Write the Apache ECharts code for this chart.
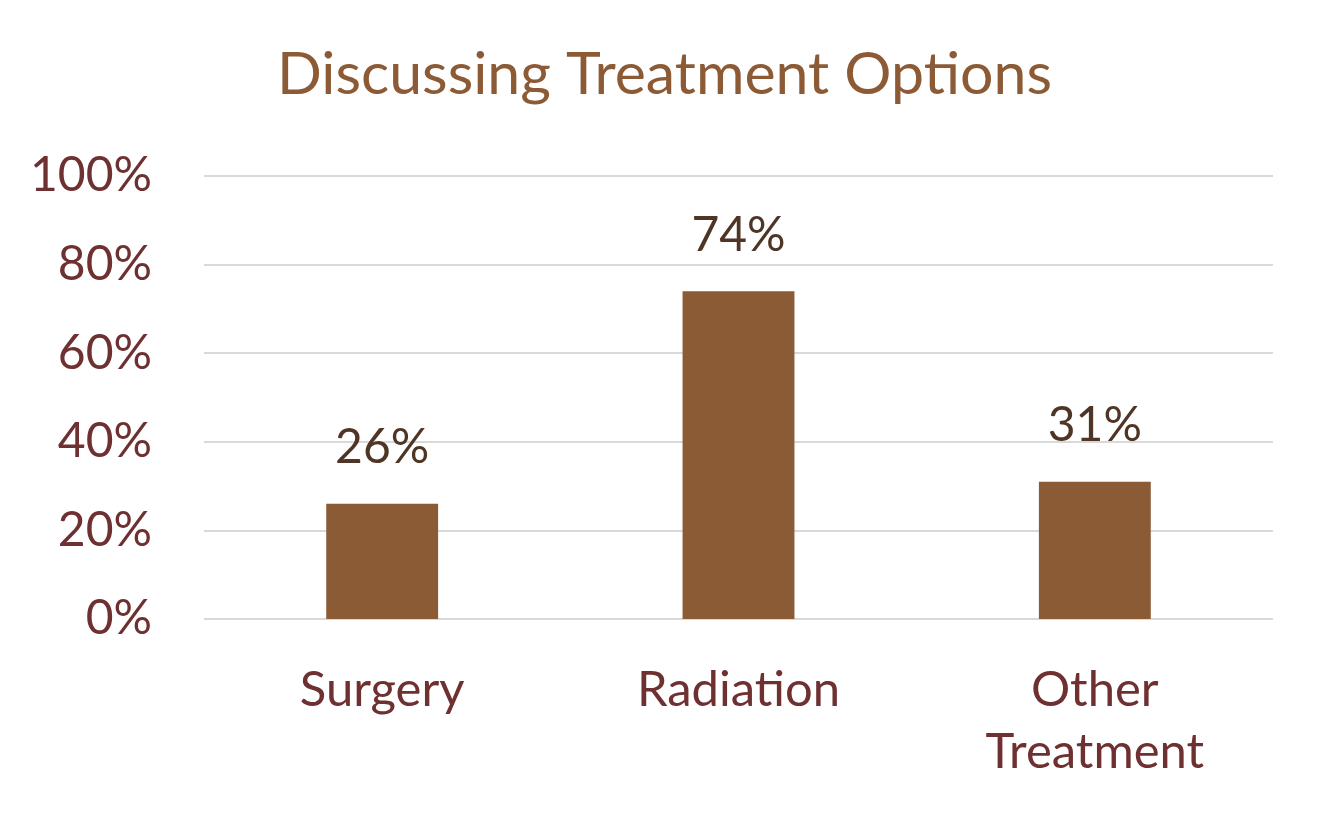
<!DOCTYPE html>
<html>
<head>
<meta charset="utf-8">
<script src="https://cdn.jsdelivr.net/npm/echarts@6/dist/echarts.min.js"></script>
<style>
  html, body { margin: 0; padding: 0; background: #fff; }
  #main { width: 1329px; height: 825px; }
</style>
</head>
<body>
<div id="main"></div>
<script>
// chart data
var categories = ['Surgery', 'Radiation', 'Other\nTreatment'];
var values = [26, 74, 31];
var yTicks = [0, 20, 40, 60, 80, 100];

var myChart = echarts.init(document.getElementById('main'));
myChart.setOption({
    title: {
        text: 'Discussing Treatment Options',
        left: 'center',
        top: 40,
        textStyle: { fontFamily: 'Lato', fontSize: 59, fontWeight: 'normal', color: '#8C5B35' }
    },
    grid: { left: 204, right: 56, top: 176, bottom: 206 },
    xAxis: {
        type: 'category',
        data: categories,
        axisLine: { show: false },
        axisTick: { show: false },
        axisLabel: {
            margin: 40,
            fontFamily: 'Lato',
            fontSize: 49,
            lineHeight: 62,
            color: '#6E3030'
        }
    },
    yAxis: {
        type: 'value',
        min: yTicks[0],
        max: yTicks[yTicks.length - 1],
        interval: 20,
        axisLine: { show: false },
        axisTick: { show: false },
        splitLine: { lineStyle: { color: '#D9D9D9', width: 2 } },
        axisLabel: {
            margin: 52,
            fontFamily: 'Lato',
            fontSize: 48,
            color: '#6E3030',
            formatter: '{value}%'
        }
    },
    series: [{
        type: 'bar',
        data: values,
        barWidth: '31.4%',
        itemStyle: { color: '#8B5B35' },
        label: {
            show: true,
            position: 'top',
            distance: 32,
            formatter: '{c}%',
            fontFamily: 'Lato',
            fontSize: 48,
            color: '#4F3525'
        }
    }]
});
</script>
</body>
</html>
